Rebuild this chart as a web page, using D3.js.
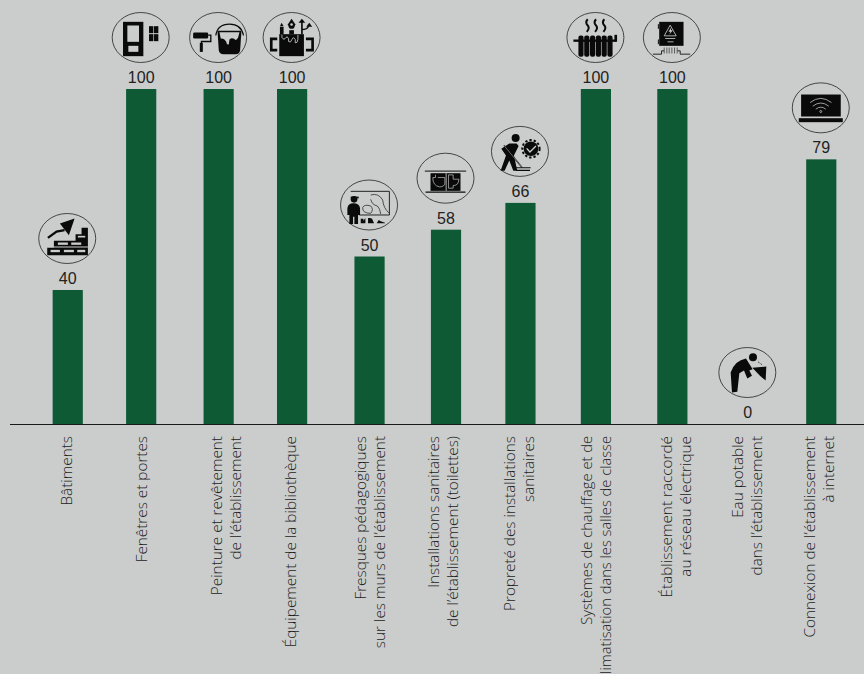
<!DOCTYPE html>
<html>
<head>
<meta charset="utf-8">
<script src="https://cdn.jsdelivr.net/npm/d3@7"></script>
<style>
  html, body { margin: 0; padding: 0; background: #cbcdcc; overflow: hidden; }
  .val { font-family: "Liberation Sans", Arial, sans-serif; font-size: 16px; fill: #222; text-anchor: middle; }
  .tick text { font-family: "Open Sans", sans-serif; font-weight: 300; font-size: 15.3px; fill: #1c1c1c; }
</style>
</head>
<body>
<div id="chart"></div>
<script>
// Data
var categories = [
  "Bâtiments",
  "Fenêtres et portes",
  "Peinture et revêtement|de l’établissement",
  "Équipement de la bibliothèque",
  "Fresques pédagogiques|sur les murs de l’établissement",
  "Installations sanitaires|de l’établissement (toilettes)",
  "Propreté des installations|sanitaires",
  "Systèmes de chauffage et de|climatisation dans les salles de classe",
  "Établissement raccordé|au réseau électrique",
  "Eau potable|dans l’établissement",
  "Connexion de l’établissement|à internet"
];
var values = [40, 100, 100, 100, 50, 58, 66, 100, 100, 0, 79];
var iconNames = ["brick", "door", "paint", "mug", "mural", "toilet", "cleaner", "radiator", "power", "water", "laptop"];

// Layout
var width = 864, height = 674;
var baseline = 424, topY = 89;
var lineGap = 19;
// the bars in the original are slightly unevenly spaced, same for the labels under them
var barNudge = [0, -2, 0, -2, 0, 1, 0, 0, 1, 1, -1];
var labelShift = [-1, 0, -2.5, -2, -9.5, -13, -10.5, -9, -5.5, -10, -11.5];
// the long heating label is set a little tighter than the others
var labelSize = [15.3, 15.3, 15.3, 15.3, 15.3, 15.3, 15.3, 14.7, 15.3, 15.3, 15.3];

var svg = d3.select("#chart").append("svg")
  .attr("width", width)
  .attr("height", height)
  .style("display", "block");

var x = d3.scaleBand().domain(categories).range([30, 860]).paddingInner(0.6).paddingOuter(0.3);
var y = d3.scaleLinear().domain([0, 100]).range([baseline, topY]);

function barLeft(d, i) { return x(d) + barNudge[i]; }
function barMid(d, i) { return barLeft(d, i) + x.bandwidth() / 2; }

// Bars
svg.selectAll("rect.bar").data(categories).enter().append("rect")
  .attr("class", "bar")
  .attr("x", barLeft)
  .attr("width", x.bandwidth())
  .attr("y", function(d, i) { return y(values[i]); })
  .attr("height", function(d, i) { return baseline - y(values[i]); })
  .attr("fill", "#0d5a35");

// Value labels
svg.selectAll("text.val").data(categories).enter().append("text")
  .attr("class", "val")
  .attr("x", barMid)
  .attr("y", function(d, i) { return y(values[i]) - 6; })
  .text(function(d, i) { return values[i]; });

// Axis, labels are rotated and split by hand
var axis = svg.append("g")
  .attr("transform", "translate(0," + baseline + ")")
  .call(d3.axisBottom(x).tickSize(0).tickFormat(""));
axis.select(".domain").attr("d", "M10,0.5H864").attr("stroke", "#1a1a1a").attr("stroke-width", 1.2);
axis.selectAll(".tick").each(function(d, i) {
  var tick = d3.select(this).attr("transform", "translate(" + barMid(d, i) + ",0)");
  var t = tick.select("text").attr("x", null).attr("y", null).attr("dy", null);
  t.style("text-anchor", "end").style("font-size", labelSize[i] + "px");
  d.split("|").forEach(function(line, k) {
    t.append("tspan")
      .attr("x", -12)
      .attr("y", labelShift[i] + k * lineGap + 5.5)
      .text(line);
  });
  t.attr("transform", "rotate(-90)");
});

// Icons, traced at 3x around their own centre
var ink = "#0a0a0a", bg = "#cbcdcc";
function shape(g, tag, attrs) {
  var s = g.append(tag);
  Object.keys(attrs).forEach(function(k) { s.attr(k, attrs[k]); });
  return s;
}
function box(g, x0, y0, w, h, fill) { return shape(g, "rect", { x: x0, y: y0, width: w, height: h, fill: fill || ink }); }
function fillP(g, d, fill) { return shape(g, "path", { d: d, fill: fill || ink }); }
function line(g, d, w, col) { return shape(g, "path", { d: d, fill: "none", stroke: col || ink, "stroke-width": w }); }

var icons = {
  brick: function(g) {
    g.attr("transform", "translate(-200,-715)");
    fillP(g, "M140 765V742H160V722H225V702H243V683H262V765Z");
    [[172, 727, 30], [212, 727, 30], [150, 749, 28], [190, 749, 30], [230, 749, 24]].forEach(function(b) {
      box(g, b[0], b[1], b[2], 7, bg);
    });
    box(g, 232, 707, 22, 5, bg);
    box(g, 140, 739, 122, 3, bg);
    fillP(g, "M222 655L178 670L205 705Z");
    line(g, "M142 713L168 694L192 690", 7);
  },
  door: function(g) {
    g.attr("transform", "translate(-420,-112)");
    box(g, 367, 65, 61, 103);
    box(g, 380, 76, 35, 49, bg);
    box(g, 383, 137, 30, 18, bg);
    box(g, 445, 78, 13, 21); box(g, 460, 78, 13, 21);
    box(g, 445, 102, 13, 21); box(g, 460, 102, 13, 21);
  },
  paint: function(g) {
    g.attr("transform", "translate(-652,-112)");
    shape(g, "rect", { x: 577, y: 97, width: 45, height: 18, rx: 4, fill: ink });
    line(g, "M622 105H630V124H602V155", 4);
    box(g, 597, 128, 9, 27);
    fillP(g, "M650 92H722L718 150Q716 162 705 162H668Q656 162 654 150Z");
    fillP(g, "M656 96H716L712 112Q706 124 700 116Q692 112 686 118L684 132Q678 136 676 124Q668 112 660 116Z", bg);
    line(g, "M645 106Q650 72 686 72Q722 72 728 106", 3.5);
  },
  mug: function(g) {
    g.attr("transform", "translate(-875,-112)");
    box(g, 838, 102, 74, 66);
    line(g, "M832 116H814V150H832M918 116H938V150H918", 8);
    line(g, "M846 104V112Q852 122 858 112Q862 106 866 116V124Q872 130 876 118Q880 108 886 118V128Q892 130 894 118V104", 2.5, bg);
    box(g, 840, 80, 11, 22); fillP(g, "M845 68L851 78H840Z");
    fillP(g, "M875 56L886 72Q884 84 880 86H870Q866 84 864 72Z");
    shape(g, "circle", { cx: 875, cy: 73, r: 4, fill: bg });
    box(g, 868, 90, 14, 12);
    line(g, "M906 102V64", 5); fillP(g, "M906 56L916 68H896Z");
    line(g, "M906 88Q922 88 926 78", 4); fillP(g, "M928 68L937 80H919Z");
  },
  mural: function(g) {
    g.attr("transform", "translate(-117,-615)");
    line(g, "M62 574H178V645H88", 3, "#222");
    line(g, "M122 640Q96 640 98 622Q104 612 122 618Q132 628 122 640M122 585Q145 578 158 600Q160 625 178 640M122 598Q126 615 142 618Q150 625 152 642", 2.5, "#333");
    shape(g, "circle", { cx: 72, cy: 598, r: 10, fill: ink });
    box(g, 62, 590, 24, 5);
    fillP(g, "M52 625Q54 610 70 610Q88 610 90 625V645H84V672H73V650H69V672H58V645H52Z");
    fillP(g, "M92 670V656H100V662L106 654V670ZM114 670V654H120L126 656L132 670ZM140 670L146 660L152 664L165 668V670Z");
  },
  toilet: function(g) {
    g.attr("transform", "translate(-345,-530)");
    line(g, "M283 509H407", 3.5, "#333");
    box(g, 300, 515, 90, 53);
    line(g, "M285 572H405", 3.5);
    line(g, "M347 515V568", 2.5, bg);
    line(g, "M315 520V528H307Q306 552 327 556Q342 556 343 545V528H322", 2, bg);
    line(g, "M354 520H368V533H385Q385 552 368 552V560H354Z", 2, bg);
  },
  cleaner: function(g) {
    g.attr("transform", "translate(-570,-458)");
    shape(g, "circle", { cx: 557, cy: 418, r: 12, fill: ink });
    fillP(g, "M514 450L538 434H560L566 442L552 470L562 516H550L538 485L524 516H512L528 470Z");
    line(g, "M522 440L576 506", 4);
    line(g, "M522 440L576 506", 1.5, bg);
    line(g, "M558 507H602M558 515H600", 3.5);
    shape(g, "circle", { cx: 603, cy: 450, r: 22, fill: ink });
    shape(g, "circle", { cx: 603, cy: 450, r: 26, fill: "none", stroke: ink, "stroke-width": 6, "stroke-dasharray": "7 6" });
    line(g, "M590 449L600 460L618 442", 4, bg);
  },
  radiator: function(g) {
    g.attr("transform", "translate(-108,-112)");
    d3.range(6).forEach(function(k) {
      shape(g, "rect", { x: 57 + k * 17.4, y: 106, width: 15.5, height: 64, rx: 6, fill: ink });
    });
    box(g, 42, 118, 130, 7);
    box(g, 165, 104, 8, 20);
    [85, 110, 135].forEach(function(c) {
      line(g, "M" + c + " 57Q" + (c - 9) + " 66 " + c + " 76Q" + (c + 7) + " 84 " + (c - 3) + " 95", 6);
    });
  },
  power: function(g) {
    g.attr("transform", "translate(-335,-112)");
    box(g, 297, 65, 73, 72);
    box(g, 293, 72, 3, 14); box(g, 293, 118, 3, 14);
    line(g, "M330 75L312 107H348Z", 2.5, bg);
    fillP(g, "M333 82L325 95H331L327 104L338 90H332Z", bg);
    line(g, "M315 115H345M322 125H340", 2.5, bg);
    line(g, "M312 142V160M320 142V160M327 142V160M335 142V160M343 142V160M351 142V160", 2.5, "#444");
    line(g, "M278 162H304V152H312M390 162H360V152H352", 3, "#222");
  },
  water: function(g) {
    g.attr("transform", "translate(-950,-98)");
    shape(g, "circle", { cx: 967, cy: 52, r: 12, fill: ink });
    fillP(g, "M904 158L900 98Q912 62 946 56L966 88L956 92L964 108L950 116L940 92L926 100L920 156Z");
    fillP(g, "M965 84L1007 80L1005 122L988 108Z");
    line(g, "M982 66L996 76", 3, "#222").attr("stroke-dasharray", "3 3");
  },
  laptop: function(g) {
    g.attr("transform", "translate(-782,-327)");
    box(g, 723, 287, 119, 66);
    box(g, 716, 358, 132, 12);
    line(g, "M750 311Q782 286 814 311M758 322Q782 303 806 322M767 331Q782 319 797 331", 2.5, "#bbb");
    shape(g, "circle", { cx: 782, cy: 338, r: 3, fill: "none", stroke: "#bbb", "stroke-width": 2.5 });
  }
};

categories.forEach(function(c, i) {
  var cx = barMid(c, i) - 0.5, cy = y(values[i]) - 51.5;
  var g = svg.append("g").attr("transform", "translate(" + cx + "," + cy + ")");
  g.append("ellipse").attr("rx", 28.5).attr("ry", 25)
    .attr("fill", "none").attr("stroke", "#222").attr("stroke-width", 0.8);
  var art = g.append("g").attr("transform", "scale(0.3333)").append("g");
  icons[iconNames[i]](art);
});
</script>
</body>
</html>
